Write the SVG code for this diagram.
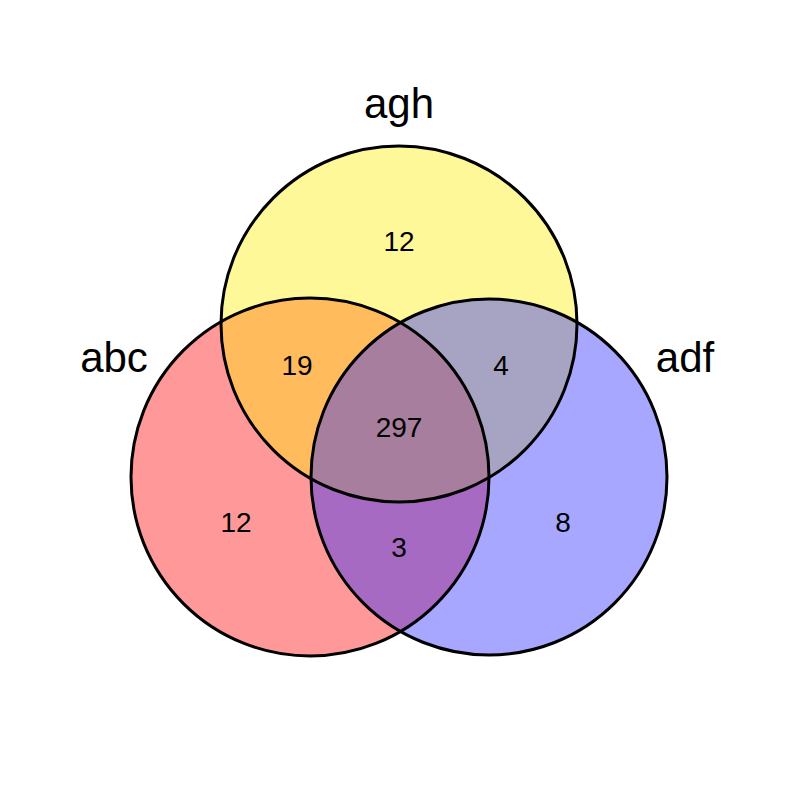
<svg xmlns="http://www.w3.org/2000/svg" width="800" height="800" viewBox="0 0 800 800">
<style>
.f{stroke:none;fill-opacity:0.4}
.o{stroke:#000;stroke-width:3;fill:none}
.n{font-family:"Liberation Sans",Arial,sans-serif;font-size:28px;text-anchor:middle;fill:#000}
.l{font-family:"Liberation Sans",Arial,sans-serif;font-size:42px;text-anchor:middle;fill:#000}
</style>
<rect width="800" height="800" fill="#fff"/>
<g id="connectors"/>
<g id="abc"><circle class="f" cx="310" cy="477" r="179" fill="#ff0000"/></g>
<g id="agh"><circle class="f" cx="399" cy="324" r="178" fill="#ffee00"/></g>
<g id="adf"><circle class="f" cx="489" cy="477" r="178" fill="#2222ff"/></g>
<g id="outlines">
<circle class="o" cx="310" cy="477" r="179"/>
<circle class="o" cx="399" cy="324" r="178"/>
<circle class="o" cx="489" cy="477" r="178"/>
</g>
<g id="labels">
<text class="l" x="399" y="118">agh</text>
<text class="l" x="114" y="372">abc</text>
<text class="l" x="685" y="372">adf</text>
</g>
<g id="counts">
<text class="n" x="399" y="251">12</text>
<text class="n" x="297" y="375">19</text>
<text class="n" x="501" y="375">4</text>
<text class="n" x="399" y="437">297</text>
<text class="n" x="236" y="532">12</text>
<text class="n" x="399" y="557">3</text>
<text class="n" x="563" y="532">8</text>
</g>
</svg>
